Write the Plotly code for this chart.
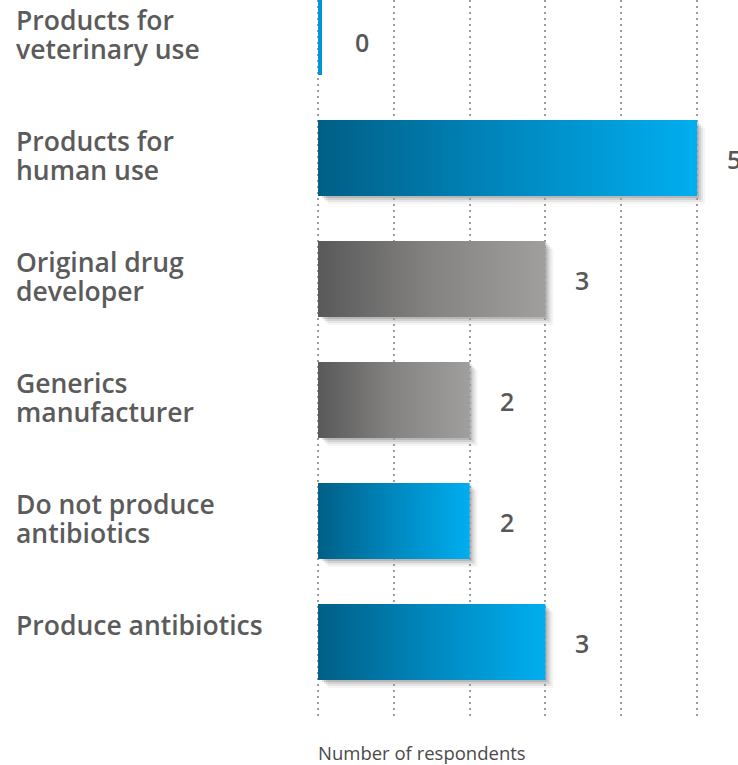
import plotly.graph_objects as go

# Survey breakdown (bottom-to-top order on the chart)
categories = [
    ["Produce antibiotics"],
    ["Do not produce", "antibiotics"],
    ["Generics", "manufacturer"],
    ["Original drug", "developer"],
    ["Products for", "human use"],
    ["Products for", "veterinary use"],
]
respondents = [3, 2, 2, 3, 5, 0]
bar_palette = ["blue", "blue", "grey", "grey", "blue", "blue"]

GRADIENTS = {
    "blue": [[0, "#005f86"], [0.5, "#0088bf"], [1, "#00aeef"]],
    "grey": [[0, "#595959"], [0.5, "#858382"], [1, "#a19f9e"]],
}
ZERO_BAR_COLOR = "#0095d6"
LABEL_FONT = dict(family="Open Sans", size=26.5, weight=600, color="#5b5b5b")
VALUE_FONT = dict(family="Open Sans", size=25, weight=600, color="#585858")

W, H = 738, 765
MARGIN_L, MARGIN_B = 315, 45
X_RANGE = [-0.04, 5.54]
Y_RANGE = [-0.645, 5.306]
HALF = 0.314  # half bar thickness in category units
LINE_GAP = 29  # px between label lines

px_x = (W - MARGIN_L) / (X_RANGE[1] - X_RANGE[0])
px_y = (H - MARGIN_B) / (Y_RANGE[1] - Y_RANGE[0])

fig = go.Figure()
shapes = []
annotations = []

for i, (lines, val, pal) in enumerate(zip(categories, respondents, bar_palette)):
    y0, y1 = i - HALF, i + HALF
    if val > 0:
        # soft drop shadow, built from a few translucent offset layers
        for off, alpha in [(8, 0.04), (6, 0.06), (4, 0.09), (2, 0.12)]:
            shapes.append(dict(
                type="rect", layer="below", line=dict(width=0),
                x0=(off + 2) / px_x, x1=val + off / px_x,
                y0=y0 - off / px_y, y1=y1 - off / px_y,
                fillcolor=f"rgba(0,0,0,{alpha})",
            ))
        fig.add_trace(go.Scatter(
            x=[0, val, val, 0, 0], y=[y0, y0, y1, y1, y0],
            mode="lines", line=dict(width=0), fill="toself",
            fillgradient=dict(type="horizontal", colorscale=GRADIENTS[pal]),
            hoverinfo="skip", showlegend=False,
        ))
        end_px, lift = 0, -1
    else:
        # a zero count is drawn as a thin sliver on the axis
        fig.add_trace(go.Scatter(
            x=[val + 2 / px_x] * 2, y=[y0, y1], mode="lines",
            line=dict(color=ZERO_BAR_COLOR, width=4),
            hoverinfo="skip", showlegend=False,
        ))
        end_px, lift = 7, -5

    # value label to the right of the bar
    annotations.append(dict(
        x=val, y=i, xref="x", yref="y", text=str(val), showarrow=False,
        xanchor="center", yanchor="middle", xshift=37 + end_px, yshift=lift,
        font=VALUE_FONT,
    ))
    # category label on the left, one annotation per line
    for k, line in enumerate(lines):
        annotations.append(dict(
            x=0, y=i, xref="paper", yref="y", text=line, showarrow=False,
            xanchor="left", yanchor="middle", align="left",
            xshift=-MARGIN_L + 14,
            yshift=HALF * px_y - 21 - k * LINE_GAP,
            font=LABEL_FONT,
        ))

annotations.append(dict(
    x=0, y=0, xref="paper", yref="paper", text="Number of respondents",
    showarrow=False, xanchor="left", yanchor="top", xshift=1, yshift=-18,
    font=dict(family="Open Sans", size=18.5, color="#4a4a4a"),
))

fig.update_layout(
    width=W, height=H,
    margin=dict(l=MARGIN_L, r=0, t=0, b=MARGIN_B, pad=0),
    paper_bgcolor="white", plot_bgcolor="white",
    showlegend=False,
    shapes=shapes, annotations=annotations,
    xaxis=dict(
        range=X_RANGE, tick0=0, dtick=1, showticklabels=False,
        showgrid=True, gridcolor="#9c9c9c", gridwidth=2, griddash="2px,4px",
        zeroline=False, showline=False, ticks="",
    ),
    yaxis=dict(
        range=Y_RANGE, showticklabels=False, showgrid=False,
        zeroline=False, showline=False, ticks="",
    ),
)

fig.write_html("out.html")
